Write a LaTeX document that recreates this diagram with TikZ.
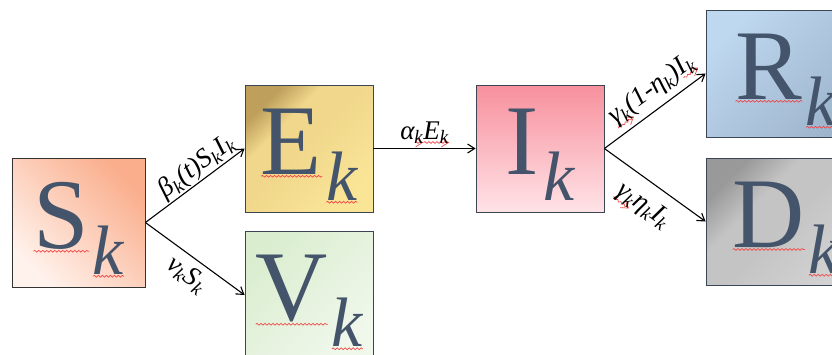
\documentclass[tikz,border=0pt]{standalone}
\usepackage{fontspec}
\setmainfont{Liberation Serif}
\usepackage{xcolor}
\usetikzlibrary{arrows.meta,decorations.pathmorphing}
\definecolor{compText}{HTML}{44546A}
\definecolor{compLine}{HTML}{3B4654}
\definecolor{spellRed}{HTML}{F04848}
\definecolor{sLight}{HTML}{FFF2EC}
\definecolor{sDark}{HTML}{FAAE8C}
\definecolor{eDark}{HTML}{BE9F5C}
\definecolor{eMid}{HTML}{F0D78B}
\definecolor{eLight}{HTML}{FAE597}
\definecolor{vDark}{HTML}{DAEDCF}
\definecolor{vLight}{HTML}{F0F8EC}
\definecolor{iDark}{HTML}{F7909D}
\definecolor{iLight}{HTML}{FFE3E7}
\definecolor{rLight}{HTML}{BED8F0}
\definecolor{rDark}{HTML}{9DB4CC}
\definecolor{dDark}{HTML}{999999}
\definecolor{dMid}{HTML}{C4C4C4}
\definecolor{dLight}{HTML}{D2D2D2}
% dark only in one corner
\pgfdeclareverticalshading{eCorner}{100bp}{color(0bp)=(eLight); color(25bp)=(eLight);
  color(52bp)=(eMid); color(64bp)=(eMid); color(75bp)=(eDark); color(100bp)=(eDark)}
\pgfdeclareverticalshading{dCorner}{100bp}{color(0bp)=(dLight); color(25bp)=(dLight);
  color(50bp)=(dMid); color(62bp)=(dMid); color(75bp)=(dDark); color(100bp)=(dDark)}

% red spell-check wave under a piece of text
\newsavebox\spellbox
\newlength\spellwd
\newlength\spelldp
\newcommand\spell[1]{\sbox\spellbox{#1}\setlength\spellwd{\wd\spellbox}%
  \setlength\spelldp{\dp\spellbox}\addtolength\spelldp{3.5bp}%
  \rlap{\raisebox{-\spelldp}{\tikz\draw[spellRed,line width=0.7bp,decorate,decoration={snake,amplitude=0.9bp,segment length=4bp}] (0pt,0pt) -- (\spellwd,0pt);}}%
  \usebox\spellbox}
\newcommand\sub[1]{\textsubscript{#1}}
% big compartment letter with its index k
\newcommand\compart[2]{{\fontsize{100bp}{100bp}\selectfont #1}\kern4bp%
  \raisebox{-26bp}{\fontsize{70bp}{70bp}\selectfont\itshape #2}}

\begin{document}
\begin{tikzpicture}[x=1bp,y=-1bp,
  box/.style={rectangle,draw=compLine,line width=0.8bp,text=compText,inner sep=0pt,
    minimum width=128bp,minimum height=127bp,text height=66bp,text depth=15bp},
  flow/.style={-{Straight Barb[length=7bp,width=9bp]},line width=1.1bp,black},
  rate/.style={font=\fontsize{27bp}{27bp}\selectfont\itshape,sloped,inner sep=1bp}]
  \useasboundingbox (0,0) rectangle (832,354);
  \clip (0,0) rectangle (832,354);
  \node[box,minimum width=133bp,minimum height=129bp,draw=black!80,
    left color=sLight,right color=sDark,shading angle=135] (S) at (78.5,222.5) {\compart{\spell{S}}{\spell{k}}};
  \node[box,shade,shading=eCorner,shading angle=45] (E) at (309,148.5) {\compart{\spell{E}}{\spell{k}}};
  \node[box,minimum height=128bp,top color=vDark,bottom color=vLight,shading angle=45] (V) at (309,295) {\compart{\spell{V}}{\spell{k}}};
  \node[box,top color=iDark,bottom color=iLight] (I) at (540,148.5) {\compart{I}{k}};
  \node[box,minimum width=160bp,top color=rLight,bottom color=rDark,shading angle=45] (R) at (786,73.5) {\compart{\spell{R}}{\spell{k}}};
  \node[box,minimum width=160bp,shade,shading=dCorner,shading angle=45] (D) at (786,221.5) {\compart{\spell{D}}{\spell{k}}};
  \draw[flow] (S.east) -- node[rate,above,pos=0.6]{β\sub{k}(t)S\sub{k}I\sub{k}} (E.west);
  \draw[flow] (S.east) -- node[rate,below=5bp,pos=0.52]{ν\sub{k}S\sub{k}} (V.west);
  \draw[flow] (E.east) -- node[rate,above]{α\sub{\spell{k}}\spell{E\sub{k}}} (I.west);
  \draw[flow] (I.east) -- node[rate,above=2bp,pos=0.58]{\spell{γ\sub{k}}(1-η\sub{k})\spell{I\sub{k}}} (R.west);
  \draw[flow] (I.east) -- node[rate,below=11bp,pos=0.52]{\spell{γ\sub{k}}η\sub{k}I\sub{k}} (D.west);
\end{tikzpicture}
\end{document}
